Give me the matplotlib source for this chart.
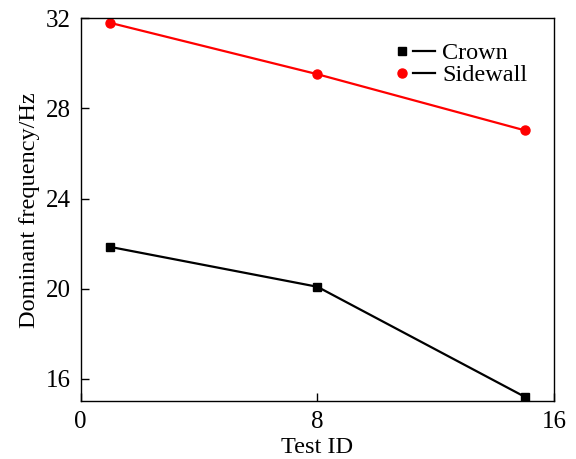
import matplotlib
matplotlib.use("Agg")
import matplotlib.pyplot as plt
from matplotlib.lines import Line2D
from matplotlib.legend_handler import HandlerTuple

plt.rcParams['font.family'] = ['Liberation Serif', 'DejaVu Serif']

test_id = [1, 8, 15]
crown = [21.85, 20.08, 15.2]
sidewall = [31.8, 29.52, 27.03]
xticks = [0, 8, 16]
yticks = [16, 20, 24, 28, 32]

fig = plt.figure(figsize=(5.76, 4.59), dpi=100)
ax = fig.add_axes([0.140, 0.126, 0.822, 0.834])

ax.plot(test_id, crown, color='black', marker='s', markersize=6, linewidth=1.6)
ax.plot(test_id, sidewall, color='red', marker='o', markersize=6.5, linewidth=1.6)

ax.set_xlim(0, 16)
ax.set_ylim(15, 32)
ax.set_xticks(xticks)
ax.set_yticks(yticks)
ax.tick_params(direction='in', length=6, width=1, labelsize=18, top=False, right=False, pad=7)
for s in ax.spines.values():
    s.set_linewidth(1.0)
ax.set_xlabel('Test ID', fontsize=17.5, labelpad=3)
ax.set_ylabel('Dominant frequency/Hz', fontsize=17.5, labelpad=4)

h1 = (Line2D([], [], color='black', marker='s', linestyle='none', markersize=6),
      Line2D([], [], color='black', linewidth=1.6))
h2 = (Line2D([], [], color='red', marker='o', linestyle='none', markersize=6.5),
      Line2D([], [], color='black', linewidth=1.6))
ax.legend([h1, h2], ['Crown', 'Sidewall'],
          handler_map={tuple: HandlerTuple(ndivide=None, pad=0.0)},
          loc='upper right', bbox_to_anchor=(0.99, 0.995), frameon=False,
          fontsize=17.5, handlelength=1.8, handletextpad=0.3, labelspacing=0.0)

fig.savefig('out.png', dpi=100)
